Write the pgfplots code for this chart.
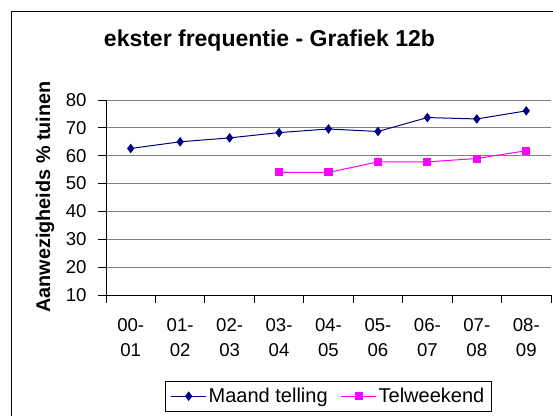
\documentclass[border=0pt]{standalone}
\usepackage{fontspec}
\setmainfont{Liberation Sans}
\usepackage{pgfplots}
\pgfplotsset{compat=1.18}
\definecolor{navyline}{RGB}{0,0,128}
\definecolor{magline}{RGB}{255,0,255}
\definecolor{gridgray}{RGB}{128,128,128}
\begin{document}
\begin{tikzpicture}[x=1pt,y=1pt]
\useasboundingbox (0,0) rectangle (553,415);
\clip (0,0) rectangle (553,415);
\fill[white] (0,0) rectangle (553,415);
\draw[black, line width=1pt] (11,403) rectangle (620,-60);
\node[font=\fontsize{23}{28}\selectfont\bfseries, anchor=base] at (269.5,368.3) {ekster frequentie - Grafiek 12b};
\node[font=\fontsize{19.8}{24}\selectfont\bfseries, anchor=base, rotate=90] at (50,218) {Aanwezigheids \% tuinen};
\begin{axis}[
  at={(106pt,120pt)}, anchor=south west,
  scale only axis, width=445pt, height=195pt,
  xmin=-0.5, xmax=8.5, ymin=10, ymax=80,
  ytick={10,20,30,40,50,60,70,80},
  xtick={-0.5,0.5,1.5,2.5,3.5,4.5,5.5,6.5,7.5,8.5},
  x tick label as interval,
  xticklabels={{00-\\01},{01-\\02},{02-\\03},{03-\\04},{04-\\05},{05-\\06},{06-\\07},{07-\\08},{08-\\09}},
  xticklabel style={align=center, yshift=-12pt, font=\fontsize{18.6}{25}\selectfont},
  yticklabel style={font=\fontsize{18.6}{22}\selectfont, xshift=-8pt},
  /pgf/number format/assume math mode=true,
  axis x line=bottom, axis y line=left,
  axis line style={-, black, line width=0.8pt},
  tick align=outside, major tick length=8pt,
  tick style={black, line width=0.8pt},
  ymajorgrids, major grid style={gridgray, line width=0.8pt},
  legend columns=2,
  legend style={at={(0.5,-0.44)}, anchor=north, draw=black, line width=0.8pt,
    font=\fontsize{20}{24}\selectfont, inner xsep=5pt, inner ysep=5pt,
    /tikz/every even column/.append style={column sep=11pt}},
  legend image code/.code={\draw[mark repeat=2,mark phase=2,#1] plot coordinates {(0pt,0pt) (17.5pt,0pt) (35pt,0pt)};},
]
\addplot[navyline, line width=1pt, mark=diamond*, mark size=4pt, mark options={solid, fill=navyline}]
  coordinates {(0,62.6) (1,65.0) (2,66.4) (3,68.3) (4,69.6) (5,68.7) (6,73.7) (7,73.2) (8,76.1)};
\addlegendentry{Maand telling}
\addplot[magline, line width=1pt, mark=square*, mark size=3.5pt, mark options={solid, fill=magline}]
  coordinates {(3,54.0) (4,54.0) (5,57.8) (6,57.8) (7,59.0) (8,61.8)};
\addlegendentry{Telweekend}
\end{axis}
\end{tikzpicture}
\end{document}
